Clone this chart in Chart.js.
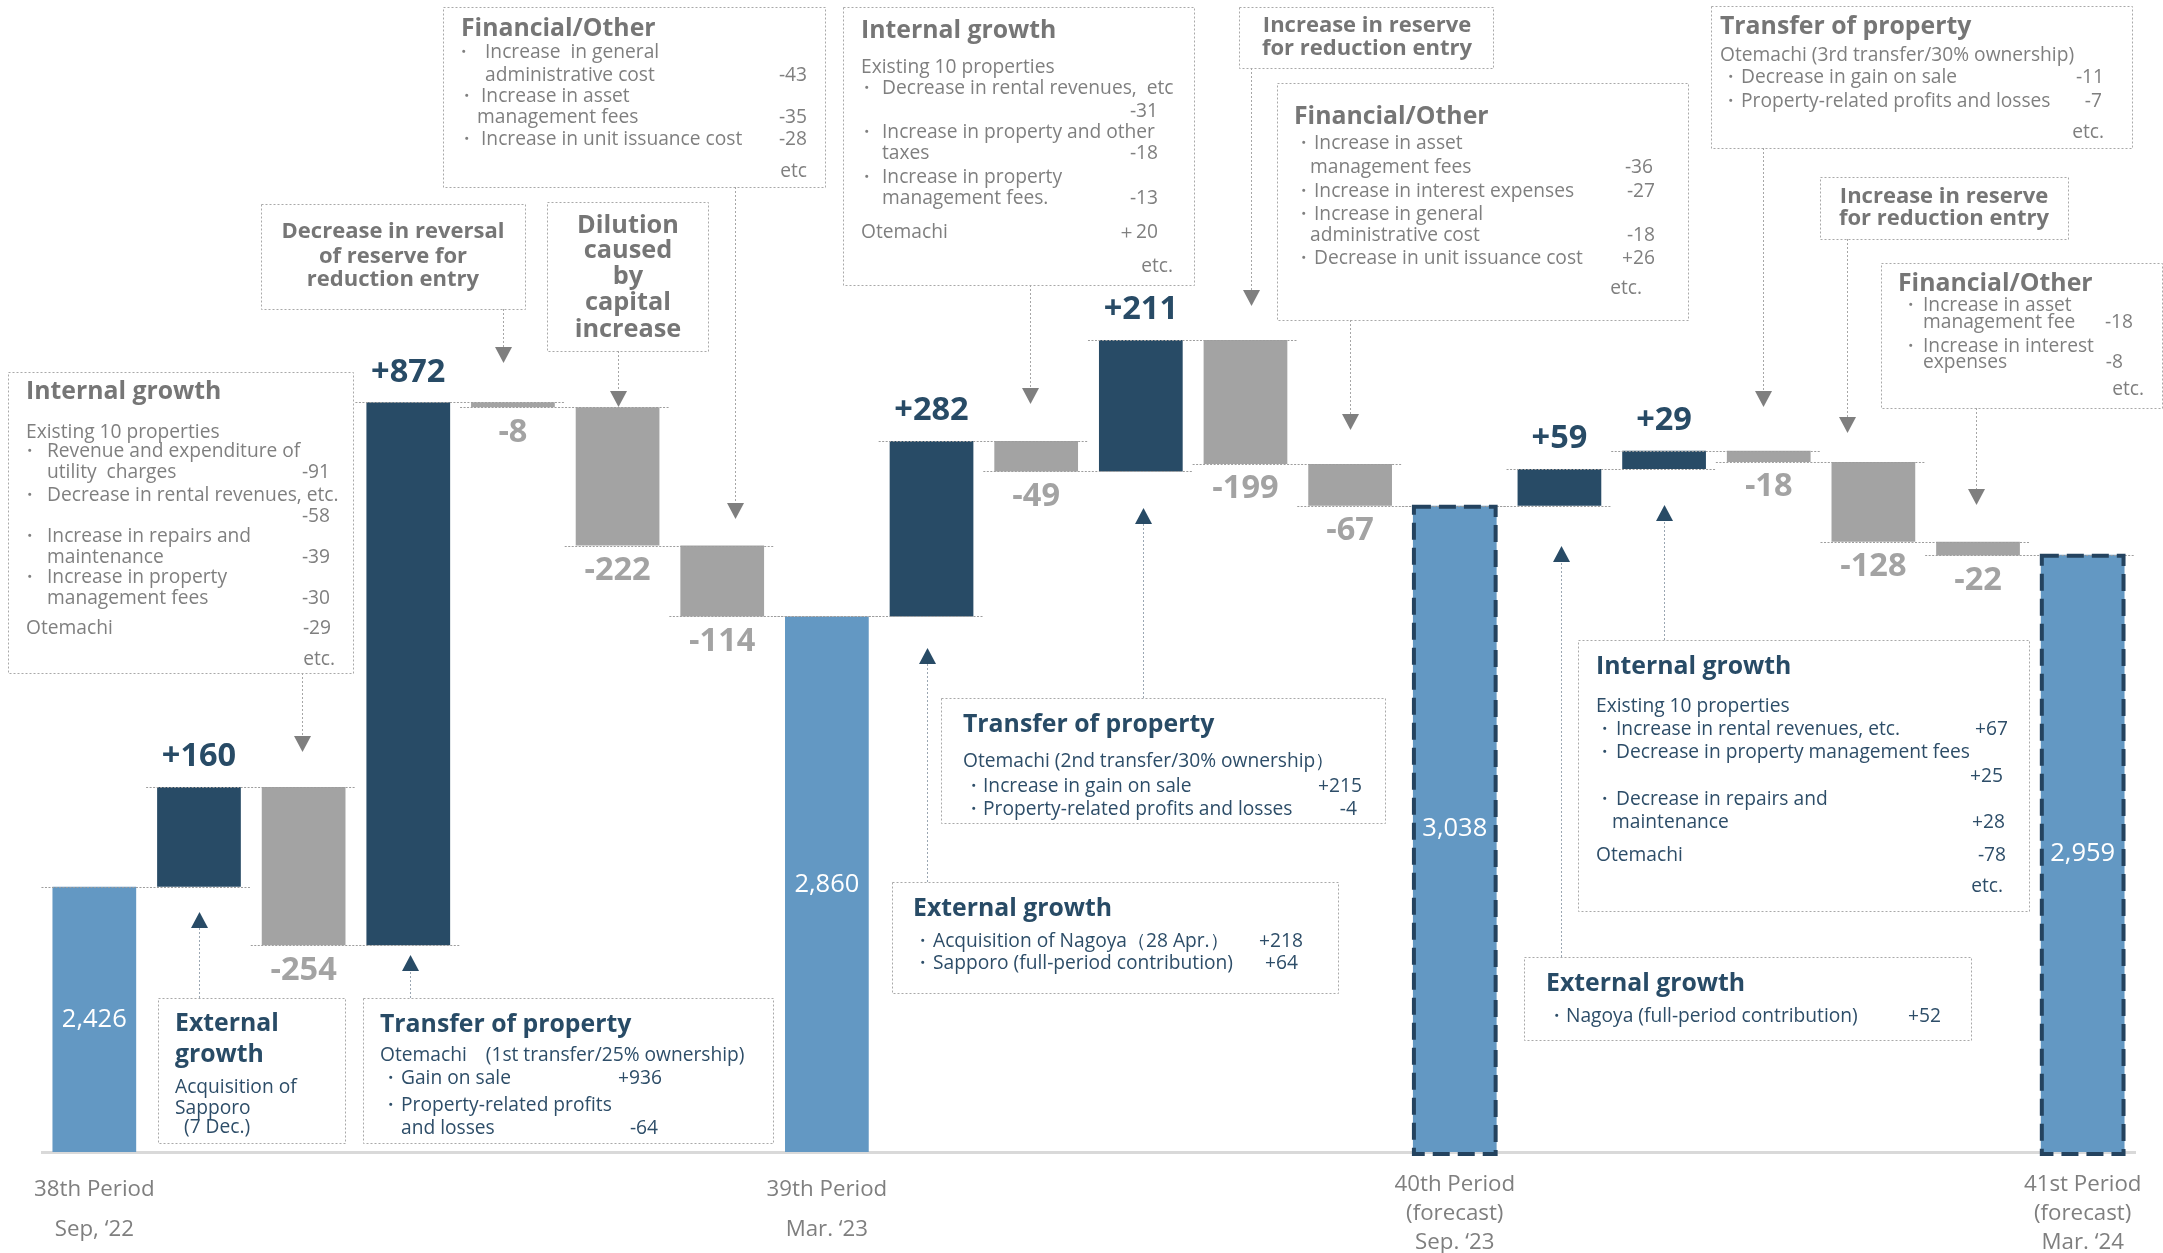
<!DOCTYPE html>
<html>
<head>
<meta charset="utf-8">
<title>Period bridge</title>
<script src="https://cdn.jsdelivr.net/npm/chart.js@4.4.0/dist/chart.umd.min.js"></script>
<style>
    html, body { margin: 0; padding: 0; background: #fff; overflow: hidden; }
    #wrap { position: relative; width: 2163px; height: 1253px; }
</style>
</head>
<body>
<div id="wrap"><canvas id="bridgeChart"></canvas></div>
<script>
// x axis labels, blank slots are the step bars
const periods = [
    ['38th Period', 'Sep, ‘22'], '', '', '', '', '', '',
    ['39th Period', 'Mar. ‘23'], '', '', '', '', '',
    ['40th Period', '(forecast)', 'Sep. ‘23'], '', '', '', '', '',
    ['41st Period', '(forecast)', 'Mar. ‘24']
];

// period results and the changes between them
const amounts = [2426, 160, -254, 872, -8, -222, -114, 2860, 282, -49, 211, -199, -67, 3038, 59, 29, -18, -128, -22, 2959];
const totalIdx = [0, 7, 13, 19];
const forecastIdx = [13, 19];

const axisMin = 2000;
const axisMax = 3850;

const NAVY = '#284b66';
const GREY_BAR = '#a3a3a3';
const LIGHT = '#6398c3';
const FONT = '"Open Sans", "Noto Sans", sans-serif';

// floating [start, end] pairs for the waterfall
let running = 0;
const floating = [];
const ends = [];
amounts.forEach((v, i) => {
    if (totalIdx.includes(i)) {
        floating.push([axisMin, v]);
        running = v;
    } else {
        floating.push([running, running + v]);
        running += v;
    }
    ends.push(running);
});

const barColors = amounts.map((v, i) => totalIdx.includes(i) ? LIGHT : (v > 0 ? NAVY : GREY_BAR));

function labelFor(v, i) {
    if (totalIdx.includes(i)) return v.toLocaleString('en-US');
    return v > 0 ? '+' + v : String(v);
}

// explanation boxes: box = [x, y, w, h], arrow = [x, from, tip]
const notes = [
    { tone: 'grey', box: [8, 372, 345, 301], arrow: [302, 673, 752], items: [
        ['Internal growth', 26, 392, 'T'],
        ['Existing 10 properties', 26, 433],
        ['・', 29, 452, 'B'], ['Revenue and expenditure of', 47, 452],
        ['utility  charges', 47, 473], ['-91', 330, 473, 'R'],
        ['・', 29, 496, 'B'], ['Decrease in rental revenues, etc.', 47, 496],
        ['-58', 330, 517, 'R'],
        ['・', 29, 537, 'B'], ['Increase in repairs and', 47, 537],
        ['maintenance', 47, 558], ['-39', 330, 558, 'R'],
        ['・', 29, 578, 'B'], ['Increase in property', 47, 578],
        ['management fees', 47, 599], ['-30', 330, 599, 'R'],
        ['Otemachi', 26, 629], ['-29', 331, 629, 'R'],
        ['etc.', 335, 660, 'R']
    ]},
    { tone: 'grey', box: [443, 7, 382, 180], arrow: [735, 187, 519], items: [
        ['Financial/Other', 461, 29, 'T'],
        ['・', 463, 53, 'B'], ['Increase  in general', 485, 53],
        ['administrative cost', 485, 76], ['-43', 807, 76, 'R'],
        ['・', 466, 97, 'B'], ['Increase in asset', 481, 97],
        ['management fees', 477, 118], ['-35', 807, 118, 'R'],
        ['・', 466, 140, 'B'], ['Increase in unit issuance cost', 481, 140], ['-28', 807, 140, 'R'],
        ['etc', 807, 172, 'R']
    ]},
    { tone: 'grey', box: [261, 204, 264, 105], arrow: [503, 309, 363], title: 22, items: [
        ['Decrease in reversal', 393, 232, 'C'],
        ['of reserve for', 393, 257, 'C'],
        ['reduction entry', 393, 280, 'C']
    ]},
    { tone: 'grey', box: [547, 202, 161, 149], arrow: [618, 351, 407], title: 25.3, items: [
        ['Dilution', 628, 226, 'C'],
        ['caused', 628, 251, 'C'],
        ['by', 628, 277, 'C'],
        ['capital', 628, 303, 'C'],
        ['increase', 628, 330, 'C']
    ]},
    { tone: 'grey', box: [843, 7, 351, 278], arrow: [1030, 285, 404], items: [
        ['Internal growth', 861, 31, 'T'],
        ['Existing 10 properties', 861, 68],
        ['・', 866, 89, 'B'], ['Decrease in rental revenues,  etc', 882, 89],
        ['-31', 1158, 112, 'R'],
        ['・', 866, 133, 'B'], ['Increase in property and other', 882, 133],
        ['taxes', 882, 154], ['-18', 1158, 154, 'R'],
        ['・', 866, 178, 'B'], ['Increase in property', 882, 178],
        ['management fees.', 882, 199], ['-13', 1158, 199, 'R'],
        ['Otemachi', 861, 233], ['＋20', 1158, 233, 'R'],
        ['etc.', 1173, 267, 'R']
    ]},
    { tone: 'grey', box: [1239, 7, 254, 61], arrow: [1251, 68, 306], title: 22, items: [
        ['Increase in reserve', 1367, 26, 'C'],
        ['for reduction entry', 1367, 49, 'C']
    ]},
    { tone: 'grey', box: [1277, 83, 411, 237], arrow: [1350, 320, 430], items: [
        ['Financial/Other', 1294, 117, 'T'],
        ['・', 1303, 144, 'B'], ['Increase in asset', 1314, 144],
        ['management fees', 1310, 168], ['-36', 1653, 168, 'R'],
        ['・', 1303, 192, 'B'], ['Increase in interest expenses', 1314, 192], ['-27', 1655, 192, 'R'],
        ['・', 1303, 215, 'B'], ['Increase in general', 1314, 215],
        ['administrative cost', 1310, 236], ['-18', 1655, 236, 'R'],
        ['・', 1303, 259, 'B'], ['Decrease in unit issuance cost', 1314, 259], ['+26', 1655, 259, 'R'],
        ['etc.', 1642, 289, 'R']
    ]},
    { tone: 'grey', box: [1711, 6, 421, 142], arrow: [1763, 148, 407], items: [
        ['Transfer of property', 1720, 27, 'T'],
        ['Otemachi (3rd transfer/30% ownership)', 1720, 56],
        ['・', 1730, 78, 'B'], ['Decrease in gain on sale', 1741, 78], ['-11', 2104, 78, 'R'],
        ['・', 1730, 102, 'B'], ['Property-related profits and losses', 1741, 102], ['-7', 2102, 102, 'R'],
        ['etc.', 2104, 133, 'R']
    ]},
    { tone: 'grey', box: [1820, 177, 248, 62], arrow: [1847, 239, 433], title: 22, items: [
        ['Increase in reserve', 1944, 197, 'C'],
        ['for reduction entry', 1944, 219, 'C']
    ]},
    { tone: 'grey', box: [1881, 263, 281, 145], arrow: [1976, 408, 505], items: [
        ['Financial/Other', 1898, 284, 'T'],
        ['・', 1910, 306, 'B'], ['Increase in asset', 1923, 306],
        ['management fee', 1923, 323], ['-18', 2133, 323, 'R'],
        ['・', 1910, 347, 'B'], ['Increase in interest', 1923, 347],
        ['expenses', 1923, 363], ['-8', 2123, 363, 'R'],
        ['etc.', 2144, 390, 'R']
    ]},
    { tone: 'navy', box: [158, 998, 187, 145], arrow: [199, 998, 912], items: [
        ['External', 175, 1024, 'T'],
        ['growth', 175, 1055, 'T'],
        ['Acquisition of', 175, 1088],
        ['Sapporo', 175, 1109],
        ['(7 Dec.)', 184, 1128]
    ]},
    { tone: 'navy', box: [363, 998, 410, 145], arrow: [410, 998, 955], items: [
        ['Transfer of property', 380, 1025, 'T'],
        ['Otemachi　(1st transfer/25% ownership)', 380, 1056],
        ['・', 390, 1079, 'B'], ['Gain on sale', 401, 1079], ['+936', 662, 1079, 'R'],
        ['・', 390, 1106, 'B'], ['Property-related profits', 401, 1106],
        ['and losses', 401, 1129], ['-64', 658, 1129, 'R']
    ]},
    { tone: 'navy', box: [941, 698, 444, 125], arrow: [1143, 698, 508], items: [
        ['Transfer of property', 963, 725, 'T'],
        ['Otemachi (2nd transfer/30% ownership）', 963, 762],
        ['・', 973, 787, 'B'], ['Increase in gain on sale', 983, 787], ['+215', 1362, 787, 'R'],
        ['・', 973, 810, 'B'], ['Property-related profits and losses', 983, 810], ['-4', 1357, 810, 'R']
    ]},
    { tone: 'navy', box: [892, 882, 446, 111], arrow: [927, 882, 648], items: [
        ['External growth', 913, 909, 'T'],
        ['・', 922, 942, 'B'], ['Acquisition of Nagoya（28 Apr.）', 933, 942], ['+218', 1303, 942, 'R'],
        ['・', 922, 964, 'B'], ['Sapporo (full-period contribution)', 933, 964], ['+64', 1298, 964, 'R']
    ]},
    { tone: 'navy', box: [1578, 640, 451, 271], arrow: [1664, 640, 505], items: [
        ['Internal growth', 1596, 667, 'T'],
        ['Existing 10 properties', 1596, 707],
        ['・', 1604, 730, 'B'], ['Increase in rental revenues, etc.', 1616, 730], ['+67', 2008, 730, 'R'],
        ['・', 1604, 753, 'B'], ['Decrease in property management fees', 1616, 753],
        ['+25', 2003, 777, 'R'],
        ['・', 1604, 800, 'B'], ['Decrease in repairs and', 1616, 800],
        ['maintenance', 1612, 823], ['+28', 2005, 823, 'R'],
        ['Otemachi', 1596, 856], ['-78', 2006, 856, 'R'],
        ['etc.', 2003, 887, 'R']
    ]},
    { tone: 'navy', box: [1524, 957, 447, 83], arrow: [1561, 957, 546], items: [
        ['External growth', 1546, 984, 'T'],
        ['・', 1556, 1017, 'B'], ['Nagoya (full-period contribution)', 1566, 1017], ['+52', 1941, 1017, 'R']
    ]}
];

const palettes = {
    grey: { title: '#767676', body: '#7f7f7f', head: '#7f7f7f', shaft: '#a6a6a6' },
    navy: { title: NAVY, body: '#2d4d68', head: NAVY, shaft: '#9aa6b2' }
};

function drawNote(ctx, n) {
    const pal = palettes[n.tone];
    const bodySize = n.body || 19.2;
    const titleSize = n.title || 24.8;
    ctx.save();

    ctx.lineWidth = 1;
    ctx.setLineDash([2, 2]);
    ctx.strokeStyle = '#a9a9a9';
    ctx.strokeRect(n.box[0] + 0.5, n.box[1] + 0.5, n.box[2], n.box[3]);

    // pointer arrow
    const [ax, from, tip] = n.arrow;
    const dir = tip > from ? 1 : -1;
    ctx.strokeStyle = pal.shaft;
    ctx.beginPath();
    ctx.moveTo(ax + 0.5, from);
    ctx.lineTo(ax + 0.5, tip - dir * 15);
    ctx.stroke();
    ctx.setLineDash([]);
    ctx.fillStyle = pal.head;
    ctx.beginPath();
    ctx.moveTo(ax - 8, tip - dir * 16);
    ctx.lineTo(ax + 9, tip - dir * 16);
    ctx.lineTo(ax + 0.5, tip);
    ctx.closePath();
    ctx.fill();

    ctx.textBaseline = 'middle';
    n.items.forEach(([text, x, y, kind]) => {
        if (kind === 'T' || kind === 'C') {
            ctx.font = `bold ${titleSize}px ${FONT}`;
            ctx.fillStyle = pal.title;
            ctx.textAlign = kind === 'C' ? 'center' : 'left';
        } else {
            ctx.font = `${bodySize}px ${FONT}`;
            ctx.fillStyle = pal.body;
            ctx.textAlign = kind === 'R' ? 'right' : (kind === 'B' ? 'center' : 'left');
        }
        ctx.fillText(text, x, y);
    });
    ctx.restore();
}

// dotted level lines joining each bar to the next one
const connectorPlugin = {
    id: 'connectors',
    afterDatasetsDraw(chart) {
        const {ctx, scales: {y}} = chart;
        const bars = chart.getDatasetMeta(0).data;
        ctx.save();
        ctx.strokeStyle = '#9d9d9d';
        ctx.lineWidth = 1.2;
        ctx.setLineDash([2, 1.5]);
        for (let i = 0; i < bars.length - 1; i++) {
            const a = bars[i].getProps(['x', 'width'], true);
            const b = bars[i + 1].getProps(['x', 'width'], true);
            const level = Math.round(y.getPixelForValue(ends[i])) + 0.5;
            ctx.beginPath();
            ctx.moveTo(a.x - a.width / 2 - 11, level);
            ctx.lineTo(b.x + b.width / 2 + 10, level);
            ctx.stroke();
        }
        ctx.restore();
    }
};

// dashed outline on the forecast results
const forecastPlugin = {
    id: 'forecastOutline',
    afterDatasetsDraw(chart) {
        const {ctx} = chart;
        const bars = chart.getDatasetMeta(0).data;
        ctx.save();
        ctx.strokeStyle = '#24435f';
        ctx.lineWidth = 4;
        ctx.setLineDash([17, 8]);
        forecastIdx.forEach(i => {
            const {x, y, base, width} = bars[i].getProps(['x', 'y', 'base', 'width'], true);
            ctx.strokeRect(x - width / 2 + 1, y + 1, width - 2, base - y + 1);
        });
        ctx.restore();
    }
};

// value labels: totals inside, changes above / below
const valuePlugin = {
    id: 'values',
    afterDatasetsDraw(chart) {
        const {ctx} = chart;
        const bars = chart.getDatasetMeta(0).data;
        ctx.save();
        ctx.textAlign = 'center';
        ctx.textBaseline = 'middle';
        amounts.forEach((v, i) => {
            const {x, y, base} = bars[i].getProps(['x', 'y', 'base'], true);
            const text = labelFor(v, i);
            if (totalIdx.includes(i)) {
                ctx.font = `25.5px ${FONT}`;
                ctx.fillStyle = '#ffffff';
                ctx.fillText(text, x, (y + base) / 2);
            } else if (v > 0) {
                ctx.font = `bold 32.5px ${FONT}`;
                ctx.fillStyle = NAVY;
                ctx.fillText(text, x, y - 30);
            } else {
                ctx.font = `bold 32.5px ${FONT}`;
                ctx.fillStyle = GREY_BAR;
                ctx.fillText(text, x, base + 25);
            }
        });
        ctx.restore();
    }
};

const notesPlugin = {
    id: 'notes',
    afterDraw(chart) {
        notes.forEach(n => drawNote(chart.ctx, n));
    }
};

const ctx = document.getElementById('bridgeChart');

new Chart(ctx, {
    type: 'bar',
    data: {
        labels: periods,
        datasets: [{
            data: floating,
            backgroundColor: barColors,
            borderWidth: 0,
            barPercentage: 0.8,
            categoryPercentage: 1.0
        }]
    },
    options: {
        responsive: true,
        maintainAspectRatio: false,
        animation: false,
        layout: {
            padding: { left: 42, right: 28, top: 0, bottom: -22 }
        },
        scales: {
            x: {
                grid: { display: false, drawTicks: false },
                border: { display: true, color: '#d9d9d9', width: 3 },
                ticks: {
                    autoSkip: false,
                    maxRotation: 0,
                    padding: 18,
                    color: '#7f7f7f',
                    font: c => ({
                        family: FONT,
                        size: 22.3,
                        lineHeight: forecastIdx.includes(c.index) ? 1.3 : 1.794
                    })
                }
            },
            y: {
                display: false,
                min: axisMin,
                max: axisMax
            }
        },
        plugins: {
            legend: { display: false },
            tooltip: { enabled: false }
        }
    },
    plugins: [connectorPlugin, forecastPlugin, valuePlugin, notesPlugin]
});
</script>
</body>
</html>
